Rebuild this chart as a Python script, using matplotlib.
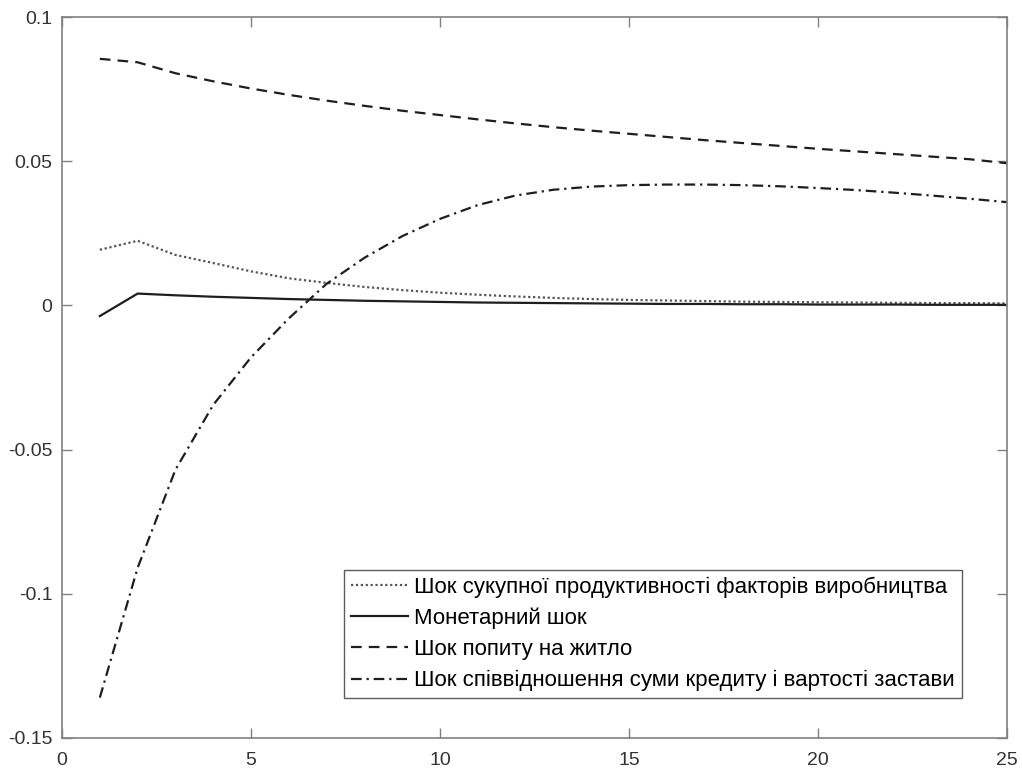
import matplotlib
matplotlib.use("Agg")
import matplotlib.pyplot as plt

# impulse responses over 25 periods
periods = list(range(1, 26))

tfp_shock = [0.0193, 0.0224, 0.0175, 0.0147, 0.0118, 0.0094, 0.0078, 0.0064, 0.0053,
             0.0044, 0.0037, 0.0031, 0.0026, 0.0022, 0.0019, 0.0017, 0.0015, 0.0013,
             0.0012, 0.0011, 0.0010, 0.0009, 0.0008, 0.0008, 0.0007]
monetary_shock = [-0.0037, 0.0041, 0.0035, 0.0030, 0.0026, 0.0022, 0.0019, 0.0016, 0.0014,
                  0.0012, 0.0010, 0.0009, 0.0008, 0.0007, 0.0006, 0.0005, 0.0005, 0.0004,
                  0.0004, 0.0003, 0.0003, 0.0003, 0.0002, 0.0002, 0.0002]
housing_demand_shock = [0.0855, 0.0843, 0.0805, 0.0777, 0.0752, 0.0730, 0.0710, 0.0692,
                        0.0675, 0.0660, 0.0645, 0.0631, 0.0618, 0.0606, 0.0595, 0.0584,
                        0.0573, 0.0563, 0.0553, 0.0543, 0.0534, 0.0525, 0.0516, 0.0507,
                        0.0493]
ltv_shock = [-0.1360, -0.0910, -0.0570, -0.0345, -0.0180, -0.0045, 0.0075, 0.0165, 0.0240,
             0.0300, 0.0348, 0.0381, 0.0401, 0.0412, 0.0417, 0.0419, 0.0419, 0.0417,
             0.0413, 0.0407, 0.0400, 0.0391, 0.0381, 0.0370, 0.0358]

labels = ["Шок сукупної продуктивності факторів виробництва",
          "Монетарний шок",
          "Шок попиту на житло",
          "Шок співвідношення суми кредиту і вартості застави"]

plt.rcParams['font.family'] = ['Liberation Sans', 'DejaVu Sans']

fig = plt.figure(figsize=(10.22, 7.73), dpi=100)
ax = fig.add_axes([0.0607, 0.0453, 0.9246, 0.9327])

line_color = "#1e1e1e"
ax.plot(periods, tfp_shock, color="#555555", lw=1.6, linestyle=(0, (1, 1.2)), label=labels[0])
ax.plot(periods, monetary_shock, color=line_color, lw=1.6, linestyle="-", label=labels[1])
ax.plot(periods, housing_demand_shock, color=line_color, lw=1.6,
        linestyle=(0, (4.8, 3.2)), label=labels[2])
ax.plot(periods, ltv_shock, color=line_color, lw=1.6,
        linestyle=(0, (4.8, 2.2, 1.0, 2.2)), label=labels[3])

ax.set_xlim(0, 25)
ax.set_ylim(-0.15, 0.1)
ax.set_xticks([0, 5, 10, 15, 20, 25])
ax.set_yticks([-0.15, -0.1, -0.05, 0, 0.05, 0.1])
ax.set_yticklabels(["-0.15", "-0.1", "-0.05", "0", "0.05", "0.1"])
ax.set_xticklabels(["0", "5", "10", "15", "20", "25"])

for s in ax.spines.values():
    s.set_color("#808080")
    s.set_linewidth(1.2)
ax.tick_params(direction="in", length=7, width=1.0, color="#808080",
               top=True, right=True, labelsize=14, labelcolor="#333333")
ax.tick_params(axis="y", pad=7)
ax.tick_params(axis="x", pad=10)

leg = ax.legend(loc="lower right", bbox_to_anchor=(0.952, 0.0555), fontsize=16,
                frameon=True, fancybox=False, handlelength=2.6, handletextpad=0.27,
                borderpad=0.3, labelspacing=0.45, borderaxespad=0)
leg.get_frame().set_edgecolor("#333333")
leg.get_frame().set_linewidth(1.0)

fig.savefig("out.png", dpi=100)
